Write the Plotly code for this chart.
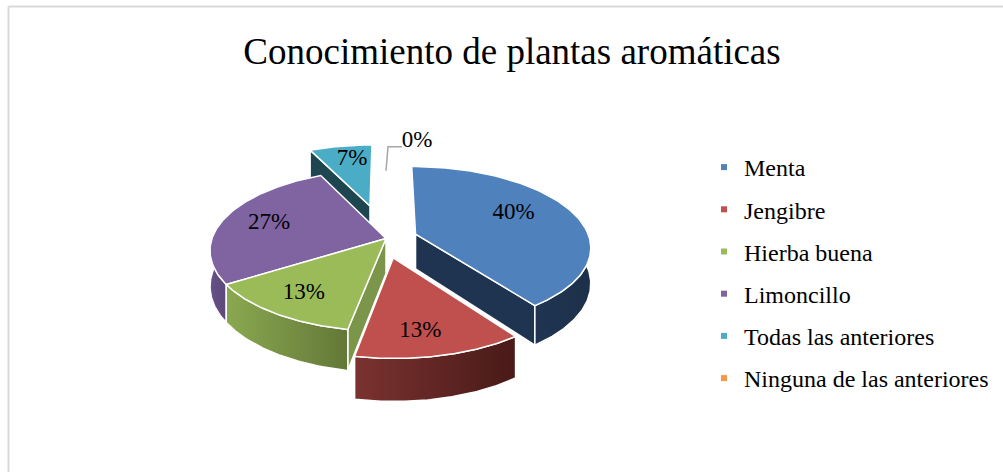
import numpy as np
import plotly.graph_objects as go

TITLE = "Conocimiento de plantas aromáticas"
categories = ["Menta", "Jengibre", "Hierba buena", "Limoncillo", "Todas las anteriores", "Ninguna de las anteriores"]
values = [40, 13, 13, 27, 7, 0]
labels = ["40%", "13%", "13%", "27%", "7%", "0%"]
top_colors = ["#4f81bd", "#c0504d", "#9bbb59", "#8064a2", "#4bacc6", "#f79646"]
wall_left = ["#1f3552", "#7b3230", "#8aa850", "#66508a", "#1d4650", "#f79646"]
wall_right = ["#1d3049", "#481a18", "#637838", "#5d4a78", "#1d4650", "#f79646"]
radial_wall = ["#1e3451", None, "#7b964a", None, "#1d4650", None]
radial_side = ["end", None, "start", None, "start", None]
explode = [0.18, 0.24, 0.0, 0.0, 0.45, 0.0]
explode_turn = [0, 3, 0, 0, 0, 0]
label_r = [0.66, 0.77, 0.76, 0.72, 0.75, 0.0]
label_turn = [-7, 3, 0, 0, 2.5, 0]

# projection of the tilted pie onto the page
CX, CY, RX, RY, PERSP, DEPTH = 386, 238.5, 174, 79, 0.15, 35
FONT = "Liberation Serif"


def project(X, Y, h=0.0):
    s = 1 / (1 + PERSP * Y)
    return CX + RX * X * s, CY - RY * Y * s + h * DEPTH * s


def polar(a, r=1.0):
    return r * np.sin(np.radians(a)), r * np.cos(np.radians(a))


total = sum(values)
starts = np.cumsum([0] + values[:-1]) / total * 360
ends = np.cumsum(values) / total * 360

fig = go.Figure()


def poly(px, py, color=None, gradient=None):
    kw = dict(fillgradient=dict(type="horizontal", colorscale=[[0, gradient[0]], [1, gradient[1]]])) if gradient else dict(fillcolor=color)
    fig.add_trace(go.Scatter(x=px, y=py, mode="lines", fill="toself", line=dict(color="white", width=1.5),
                             hoverinfo="skip", showlegend=False, **kw))


def draw(i):
    a0, a1 = starts[i], ends[i]
    ox, oy = polar((a0 + a1) / 2 + explode_turn[i], explode[i])
    arc = np.linspace(a0, a1, 90)
    ax, ay = polar(arc)
    ax, ay = ax + ox, ay + oy
    # radial wall
    if radial_wall[i]:
        ang = a1 if radial_side[i] == "end" else a0
        ex, ey = polar(ang)
        xs = [ox, ex + ox, ex + ox, ox]
        ys = [oy, ey + oy, ey + oy, oy]
        hs = [0, 0, 1, 1]
        p = [project(x, y, h) for x, y, h in zip(xs, ys, hs)]
        poly([q[0] for q in p] + [p[0][0]], [q[1] for q in p] + [p[0][1]], color=radial_wall[i])
    # outer wall, front part only
    lo, hi = max(a0, 80), min(a1, 280)
    if hi > lo:
        w = np.linspace(lo, hi, 70)
        wx, wy = polar(w)
        wx, wy = wx + ox, wy + oy
        tx, ty = project(wx, wy)
        bx, by = project(wx, wy, 1)
        px = np.concatenate([tx, bx[::-1], tx[:1]])
        py = np.concatenate([ty, by[::-1], ty[:1]])
        poly(px, py, gradient=(wall_left[i], wall_right[i]))
    # top face
    tx, ty = project(np.concatenate([[ox], ax, [ox]]), np.concatenate([[oy], ay, [oy]]))
    poly(tx, ty, color=top_colors[i])


for i in [4, 3, 0, 2, 1]:
    draw(i)

# legend entries
for i, name in enumerate(categories):
    fig.add_trace(go.Scatter(x=[None], y=[None], mode="markers", name=name, legendgroup=name,
                             marker=dict(symbol="square", size=6, color=top_colors[i])))

# data labels
lx, ly = [], []
for i in range(5):
    mid = (starts[i] + ends[i]) / 2
    ox, oy = polar(mid + explode_turn[i], explode[i])
    X, Y = polar(mid + label_turn[i], label_r[i])
    px, py = project(X + ox, Y + oy)
    lx.append(px)
    ly.append(py)
fig.add_trace(go.Scatter(x=lx, y=ly, mode="text", text=labels[:5], textfont=dict(family=FONT, size=23, color="black"),
                         textposition="middle center", hoverinfo="skip", showlegend=False))

# zero slice: label with leader line
zx, zy = project(*polar(0.0, 1.0))
fig.add_trace(go.Scatter(x=[zx, zx + 2, zx + 16], y=[zy + 1, zy - 23, zy - 23], mode="lines",
                         line=dict(color="#a6a6a6", width=1.5), hoverinfo="skip", showlegend=False))
fig.add_trace(go.Scatter(x=[zx + 31], y=[zy - 29], mode="text", text=[labels[5]],
                         textfont=dict(family=FONT, size=23, color="black"), hoverinfo="skip", showlegend=False))

fig.update_layout(
    width=1003, height=472, margin=dict(l=0, r=0, t=0, b=0), paper_bgcolor="white", plot_bgcolor="white",
    xaxis=dict(range=[0, 1003], visible=False, fixedrange=True),
    yaxis=dict(range=[472, 0], visible=False, fixedrange=True),
    title=dict(text=TITLE, x=512 / 1003, xanchor="center", y=1 - 51 / 472, yanchor="middle",
               font=dict(family=FONT, size=37, color="black")),
    legend=dict(x=704 / 1003, xanchor="left", y=1 - 145 / 472, yanchor="top", font=dict(family=FONT, size=24, color="black"),
                tracegroupgap=8, bgcolor="rgba(0,0,0,0)"),
    shapes=[dict(type="line", xref="paper", yref="paper", x0=8.5 / 1003, x1=1, y0=1 - 6.5 / 472, y1=1 - 6.5 / 472, line=dict(color="#d9d9d9", width=2)),
            dict(type="line", xref="paper", yref="paper", x0=8.5 / 1003, x1=8.5 / 1003, y0=0, y1=1 - 6.5 / 472, line=dict(color="#d9d9d9", width=2))],
)
fig.write_html("out.html", config=dict(displayModeBar=False), post_script="document.body.style.margin='0';")
